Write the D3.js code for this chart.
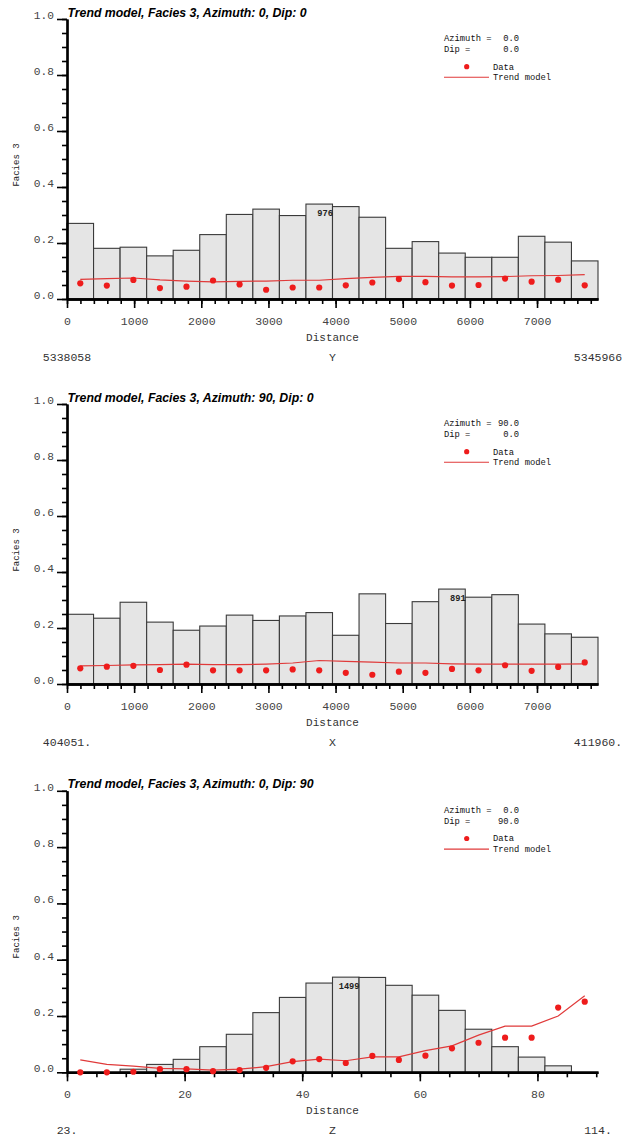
<!DOCTYPE html>
<html>
<head>
<meta charset="utf-8">
<script src="https://cdn.jsdelivr.net/npm/d3@7"></script>
<style>
  html, body { margin: 0; padding: 0; background: #fff; }
  svg { display: block; }
</style>
</head>
<body>
<svg id="chart" width="626" height="1143"></svg>
<script>
// Facies 3 proportions per distance class (20 classes per direction)

// Azimuth 0, Dip 0 (along Y)
const yDirProportion = [0.270, 0.181, 0.185, 0.154, 0.174, 0.230, 0.302, 0.321, 0.298, 0.339,
                        0.330, 0.292, 0.181, 0.205, 0.164, 0.149, 0.149, 0.224, 0.203, 0.136];
const yDirData       = [0.056, 0.048, 0.068, 0.039, 0.044, 0.066, 0.052, 0.033, 0.041, 0.041,
                        0.049, 0.059, 0.071, 0.060, 0.048, 0.050, 0.073, 0.062, 0.069, 0.049];
const yDirTrend      = [0.070, 0.073, 0.075, 0.068, 0.064, 0.061, 0.063, 0.064, 0.067, 0.067,
                        0.073, 0.077, 0.081, 0.081, 0.079, 0.079, 0.080, 0.083, 0.084, 0.087];

// Azimuth 90, Dip 0 (along X)
const xDirProportion = [0.249, 0.235, 0.292, 0.221, 0.192, 0.207, 0.246, 0.227, 0.243, 0.255,
                        0.174, 0.322, 0.216, 0.294, 0.339, 0.310, 0.319, 0.214, 0.179, 0.167];
const xDirData       = [0.056, 0.062, 0.065, 0.050, 0.069, 0.049, 0.049, 0.049, 0.052, 0.049,
                        0.040, 0.033, 0.044, 0.040, 0.054, 0.049, 0.067, 0.047, 0.061, 0.077];
const xDirTrend      = [0.065, 0.066, 0.068, 0.069, 0.071, 0.069, 0.069, 0.071, 0.075, 0.084,
                        0.081, 0.078, 0.075, 0.075, 0.072, 0.071, 0.071, 0.071, 0.071, 0.072];

// Azimuth 0, Dip 90 (along Z)
const zDirProportion = [0.000, 0.000, 0.011, 0.028, 0.046, 0.091, 0.135, 0.212, 0.266, 0.317,
                        0.338, 0.337, 0.309, 0.274, 0.220, 0.153, 0.091, 0.054, 0.023, 0.000];
const zDirData       = [0.000, 0.000, 0.002, 0.011, 0.011, 0.004, 0.008, 0.016, 0.039, 0.047,
                        0.033, 0.058, 0.044, 0.059, 0.085, 0.105, 0.123, 0.123, 0.230, 0.251];
const zDirTrend      = [0.044, 0.028, 0.022, 0.014, 0.012, 0.008, 0.011, 0.020, 0.038, 0.047,
                        0.041, 0.055, 0.055, 0.077, 0.094, 0.132, 0.164, 0.164, 0.200, 0.272];

// Sample counts printed on the fullest class
const maxClassCounts = ["976", "891", "1499"];

// Direction lengths and coordinate bounds
const directionExtents = [7908, 7909, 90.3];
const coordAxisNames   = ["Y", "X", "Z"];
const coordMinLabels   = ["5338058", "404051.", "23."];
const coordMaxLabels   = ["5345966", "411960.", "114."];
const azimuthValues    = ["0.0", "90.0", "0.0"];
const dipValues        = ["0.0", "0.0", "90.0"];
const panelTitles = [
  "Trend model, Facies 3, Azimuth: 0, Dip: 0",
  "Trend model, Facies 3, Azimuth: 90, Dip: 0",
  "Trend model, Facies 3, Azimuth: 0, Dip: 90"
];

// Tick values
const yMajorTicks = [0, 0.2, 0.4, 0.6, 0.8, 1.0];
const horizMajorTicks = [0, 1000, 2000, 3000, 4000, 5000, 6000, 7000];
const vertMajorTicks  = [0, 20, 40, 60, 80];

const MONO = "'Liberation Mono', 'Courier New', monospace";
const SANS = "'Liberation Sans', Arial, Helvetica, sans-serif";
const RED = "#ee1c1c";

const panels = [
  { props: yDirProportion, data: yDirData, trend: yDirTrend, y0: 299,    y1: 19,
    minorStep: 200, minorMax: 7800, majors: horizMajorTicks },
  { props: xDirProportion, data: xDirData, trend: xDirTrend, y0: 684,    y1: 404,
    minorStep: 200, minorMax: 7800, majors: horizMajorTicks },
  { props: zDirProportion, data: zDirData, trend: zDirTrend, y0: 1072.3, y1: 790.8,
    minorStep: 5, minorMax: 90, majors: vertMajorTicks }
];

const svg = d3.select("#chart");
const X0 = 67, X1 = 598;

panels.forEach((p, k) => {
  const g = svg.append("g");
  const extent = directionExtents[k];
  const x = d3.scaleLinear().domain([0, extent]).range([X0, X1]);
  const y = d3.scaleLinear().domain([0, 1]).range([p.y0, p.y1]);
  const n = p.props.length;
  const w = extent / n;

  // proportion histogram
  const bins = p.props.map((v, i) => ({ v, i })).filter(d => d.v > 0);
  g.append("g").selectAll("rect")
    .data(bins)
    .join("rect")
    .attr("x", d => x(d.i * w))
    .attr("width", d => x((d.i + 1) * w) - x(d.i * w))
    .attr("y", d => y(d.v))
    .attr("height", d => y(0) - y(d.v))
    .attr("fill", "#e5e5e5")
    .attr("stroke", "#3a3a3a")
    .attr("stroke-width", 1.1);

  // y axis: minor then major ticks
  const yMinor = d3.axisLeft(y).tickValues(d3.range(0, 1.0001, 0.05))
    .tickSize(5).tickSizeOuter(0).tickFormat("");
  const yMajor = d3.axisLeft(y).tickValues(yMajorTicks)
    .tickSize(10).tickSizeOuter(0).tickPadding(3).tickFormat(d3.format(".1f"));
  const gyMin = g.append("g").attr("transform", `translate(${X0},0)`).call(yMinor);
  const gyMaj = g.append("g").attr("transform", `translate(${X0},0)`).call(yMajor);
  [gyMin, gyMaj].forEach(a => {
    a.select(".domain").attr("stroke", "#000").attr("stroke-width", 2.2);
    a.selectAll(".tick line").attr("stroke", "#000").attr("stroke-width", 1.6);
  });
  gyMaj.selectAll(".tick text")
    .attr("x", -13).attr("dy", "-0.5")
    .attr("font-family", MONO).attr("font-size", 11.2)
    .attr("fill", "#444");

  // x axis
  const xMinor = d3.axisBottom(x).tickValues(d3.range(0, p.minorMax + 1e-9, p.minorStep))
    .tickSize(5).tickSizeOuter(0).tickFormat("");
  const xMajor = d3.axisBottom(x).tickValues(p.majors)
    .tickSize(9).tickSizeOuter(0).tickFormat(d3.format("d"));
  const gxMin = g.append("g").attr("transform", `translate(0,${p.y0})`).call(xMinor);
  const gxMaj = g.append("g").attr("transform", `translate(0,${p.y0})`).call(xMajor);
  [gxMin, gxMaj].forEach(a => {
    a.select(".domain").attr("stroke", "#000").attr("stroke-width", 2.4);
    a.selectAll(".tick line").attr("stroke", "#000").attr("stroke-width", 1.6);
  });
  gxMaj.selectAll(".tick text")
    .attr("y", 25.5).attr("dy", null)
    .attr("font-family", MONO).attr("font-size", 11.5)
    .attr("fill", "#444");

  // trend model curve through class centres
  const line = d3.line()
    .x((d, i) => x((i + 0.5) * w))
    .y(d => y(d));
  g.append("path")
    .datum(p.trend)
    .attr("d", line)
    .attr("fill", "none")
    .attr("stroke", "#e03a3a")
    .attr("stroke-width", 1.2);

  // experimental proportions
  g.append("g").selectAll("circle")
    .data(p.data)
    .join("circle")
    .attr("cx", (d, i) => x((i + 0.5) * w))
    .attr("cy", d => y(d))
    .attr("r", 3.1)
    .attr("fill", RED);

  // sample count of the fullest class
  const iMax = d3.maxIndex(p.props);
  g.append("text")
    .attr("x", x((iMax + 1) * w) + 0.5)
    .attr("y", y(p.props[iMax]) + 12)
    .attr("text-anchor", "end")
    .attr("font-family", MONO).attr("font-size", 8.7).attr("font-weight", "bold")
    .attr("fill", "#222")
    .text(maxClassCounts[k]);

  // title
  g.append("text")
    .attr("x", 67.5).attr("y", p.y1 - 2.5)
    .attr("font-family", SANS).attr("font-size", 12.3)
    .attr("font-weight", "bold").attr("font-style", "italic")
    .attr("fill", "#000")
    .text(panelTitles[k]);

  // legend block
  const lg = g.append("g").attr("font-family", MONO).attr("font-size", 8.8).attr("fill", "#111");
  lg.append("text").attr("x", 444).attr("y", p.y1 + 22).text("Azimuth =");
  lg.append("text").attr("x", 519).attr("y", p.y1 + 22).attr("text-anchor", "end").text(azimuthValues[k]);
  lg.append("text").attr("x", 444).attr("y", p.y1 + 33).text("Dip =");
  lg.append("text").attr("x", 519).attr("y", p.y1 + 33).attr("text-anchor", "end").text(dipValues[k]);
  lg.append("circle").attr("cx", 466.7).attr("cy", p.y1 + 47.7).attr("r", 2.6).attr("fill", RED);
  lg.append("text").attr("x", 493).attr("y", p.y1 + 50.5).text("Data");
  lg.append("line").attr("x1", 444).attr("x2", 489)
    .attr("y1", p.y1 + 58.3).attr("y2", p.y1 + 58.3)
    .attr("stroke", "#e03a3a").attr("stroke-width", 1.1);
  lg.append("text").attr("x", 493).attr("y", p.y1 + 61).text("Trend model");

  // axis titles
  g.append("text")
    .attr("transform", `translate(19,${p.y1 + 146}) rotate(-90)`)
    .attr("text-anchor", "middle")
    .attr("font-family", MONO).attr("font-size", 9).attr("fill", "#222")
    .text("Facies 3");
  g.append("text")
    .attr("x", (X0 + X1) / 2).attr("y", p.y0 + 42)
    .attr("text-anchor", "middle")
    .attr("font-family", MONO).attr("font-size", 11).attr("fill", "#333")
    .text("Distance");

  // coordinate range of the direction
  const cg = g.append("g").attr("font-family", MONO).attr("font-size", 11.5)
    .attr("fill", "#333").attr("text-anchor", "middle");
  cg.append("text").attr("x", X0).attr("y", p.y0 + 62).text(coordMinLabels[k]);
  cg.append("text").attr("x", (X0 + X1) / 2).attr("y", p.y0 + 62).text(coordAxisNames[k]);
  cg.append("text").attr("x", X1).attr("y", p.y0 + 62).text(coordMaxLabels[k]);
});
</script>
</body>
</html>
